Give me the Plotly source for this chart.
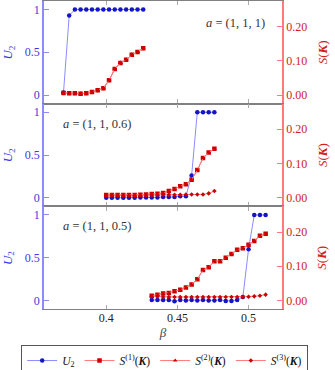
import plotly.graph_objects as go

# --- data ------------------------------------------------------------------
beta_1 = [0.370, 0.374, 0.378, 0.382, 0.386, 0.390, 0.394, 0.398, 0.402, 0.406,
          0.410, 0.414, 0.418, 0.422, 0.426]
u2_1 = [0.03, 0.93, 1.0, 1.0, 1.0, 1.0, 1.0, 1.0, 1.0, 1.0, 1.0, 1.0, 1.0, 1.0, 1.0]
s1_1 = [0.006, 0.005, 0.005, 0.004, 0.005, 0.009, 0.014, 0.020, 0.043, 0.076,
        0.094, 0.103, 0.118, 0.126, 0.137]
s2_1 = s1_1
s3_1 = s1_1

beta_2 = [0.400, 0.404, 0.408, 0.412, 0.416, 0.420, 0.424, 0.428, 0.432, 0.436,
          0.440, 0.444, 0.448, 0.452, 0.456, 0.460, 0.464, 0.468, 0.472, 0.476]
u2_2 = [0.0, 0.0, 0.0, 0.0, 0.0, 0.0, 0.005, 0.005, 0.005, 0.005,
        0.01, 0.01, 0.01, 0.02, 0.02, 0.26, 1.0, 1.0, 1.0, 1.0]
s1_2 = [0.008, 0.008, 0.008, 0.008, 0.008, 0.008, 0.009, 0.010, 0.011, 0.012,
        0.014, 0.020, 0.026, 0.034, 0.040, 0.053, 0.081, 0.116, 0.132, 0.143]
s2_2 = s1_2
s3_2 = [0.007, 0.007, 0.007, 0.007, 0.007, 0.007, 0.007, 0.008, 0.008, 0.008,
        0.009, 0.009, 0.009, 0.009, 0.010, 0.010, 0.010, 0.010, 0.013, 0.020]

beta_3 = [0.432, 0.436, 0.440, 0.444, 0.448, 0.452, 0.456, 0.460, 0.464, 0.468,
          0.472, 0.476, 0.480, 0.484, 0.488, 0.492, 0.496, 0.500, 0.504, 0.508, 0.512]
u2_3 = [0.005, 0.005, 0.005, 0.005, -0.01, 0.005, 0.0, 0.005, 0.0, 0.005,
        0.0, 0.0, 0.005, -0.005, -0.005, 0.005, 0.04, 0.60, 1.0, 1.0, 1.0]
s1_3 = [0.014, 0.017, 0.020, 0.022, 0.027, 0.031, 0.038, 0.047, 0.062, 0.089,
        0.097, 0.115, 0.115, 0.125, 0.136, 0.148, 0.153, 0.163, 0.174, 0.189, 0.195]
s2_3 = s1_3
s3_3 = [0.012, 0.011, 0.010, 0.010, 0.010, 0.010, 0.010, 0.010, 0.010, 0.010,
        0.010, 0.010, 0.010, 0.010, 0.010, 0.010, 0.010, 0.011, 0.012, 0.014, 0.017]

panel_labels = ["<i>a</i> = (1, 1, 1)", "<i>a</i> = (1, 1, 0.6)", "<i>a</i> = (1, 1, 0.5)"]

FONT = "Liberation Serif"
BLUE = "#1414c8"
BLUE_LINE = "#8c8cff"
BLUE_TXT = "#3a3ae0"
RED = "#cc0000"
RED_LINE = "#ff7a7a"
RED_TXT = "#d42020"
GRAY = "#808080"

panels = [
    (beta_1, u2_1, s1_1, s2_1, s3_1),
    (beta_2, u2_2, s1_2, s2_2, s3_2),
    (beta_3, u2_3, s1_3, s2_3, s3_3),
]
domains = [[0.667, 1.0], [0.333, 0.667], [0.0, 0.333]]

fig = go.Figure()

for i, (b, u2, s1, s2, s3) in enumerate(panels):
    xa = "x" if i == 0 else "x%d" % (i + 1)
    yl = "y" if i == 0 else "y%d" % (2 * i + 1)
    yr = "y%d" % (2 * i + 2)
    show = (i == 2)

    fig.add_trace(go.Scatter(
        x=b, y=u2, xaxis=xa, yaxis=yl, mode="lines+markers",
        name="<i>U</i><sub>2</sub>", showlegend=show,
        line=dict(color=BLUE_LINE, width=1),
        marker=dict(color=BLUE, size=4.5, symbol="circle"),
    ))
    fig.add_trace(go.Scatter(
        x=b, y=s1, xaxis=xa, yaxis=yr, mode="lines+markers",
        name="<i>S</i><sup>(1)</sup>(<b><i>K</i></b>)", showlegend=show,
        line=dict(color=RED_LINE, width=1),
        marker=dict(color=RED, size=4.5, symbol="square"),
    ))
    fig.add_trace(go.Scatter(
        x=b, y=s2, xaxis=xa, yaxis=yr, mode="lines+markers",
        name="<i>S</i><sup>(2)</sup>(<b><i>K</i></b>)", showlegend=show,
        line=dict(color=RED_LINE, width=1),
        marker=dict(color=RED, size=4, symbol="triangle-up"),
    ))
    fig.add_trace(go.Scatter(
        x=b, y=s3, xaxis=xa, yaxis=yr, mode="lines+markers",
        name="<i>S</i><sup>(3)</sup>(<b><i>K</i></b>)", showlegend=show,
        line=dict(color=RED_LINE, width=1),
        marker=dict(color=RED, size=3.5, symbol="diamond"),
    ))

    xkey = "xaxis" if i == 0 else "xaxis%d" % (i + 1)
    ylkey = "yaxis" if i == 0 else "yaxis%d" % (2 * i + 1)
    yrkey = "yaxis%d" % (2 * i + 2)

    fig.update_layout({
        xkey: dict(
            domain=[0, 1], anchor=yl, range=[0.3563, 0.5235],
            matches=None if i == 0 else "x",
            tickvals=[0.4, 0.45, 0.5], ticktext=["0.4", "0.45", "0.5"],
            showticklabels=(i == 2), ticks="inside", ticklen=4,
            tickcolor="#aaaaaa", tickwidth=1, ticklabelstandoff=-3,
            showline=True, linecolor=GRAY, linewidth=1.2, mirror="ticks",
            showgrid=False, zeroline=False, automargin=False,
            tickfont=dict(family=FONT, size=12, color="#222222"),
            title=dict(text="<i>β</i>" if i == 2 else "",
                       font=dict(family=FONT, size=13, color="#444444"),
                       standoff=4),
        ),
        ylkey: dict(
            domain=domains[i], anchor=xa, range=[-0.1, 1.1],
            tickvals=[0, 0.5, 1], ticktext=["0", "0.5", "1"],
            ticks="inside", ticklen=5, tickcolor=BLUE_LINE,
            showline=True, linecolor=BLUE_LINE, linewidth=1.5,
            showgrid=False, zeroline=False, automargin=False,
            tickfont=dict(family=FONT, size=12, color=BLUE_TXT),
        ),
        yrkey: dict(
            domain=domains[i], anchor=xa, overlaying=yl, side="right",
            range=[-0.025, 0.275], tickvals=[0, 0.1, 0.2],
            ticktext=["0.00", "0.10", "0.20"],
            ticks="inside", ticklen=5, tickcolor=RED_LINE,
            showline=True, linecolor=RED_LINE, linewidth=1.5,
            showgrid=False, zeroline=False, automargin=False,
            tickfont=dict(family=FONT, size=12, color=RED_TXT),
        ),
    })

    # axis titles, one pair per panel
    ymid = sum(domains[i]) / 2
    fig.add_annotation(
        x=-0.15, y=ymid, xref="paper", yref="paper",
        text="<i>U</i><sub>2</sub>", showarrow=False, textangle=-90,
        xanchor="center", yanchor="middle",
        font=dict(family=FONT, size=13, color=BLUE_TXT),
    )
    fig.add_annotation(
        x=1.168, y=ymid, xref="paper", yref="paper",
        text="<i>S</i>(<b><i>K</i></b>)", showarrow=False, textangle=-90,
        xanchor="center", yanchor="middle",
        font=dict(family=FONT, size=13, color=RED_TXT),
    )

# panel annotations
ann_pos = [(0.935, 0.93, "right"), (0.072, 0.6, "left"), (0.072, 0.268, "left")]
for (ax, ay, anc), txt in zip(ann_pos, panel_labels):
    fig.add_annotation(
        x=ax, y=ay, xref="paper", yref="paper", text=txt, showarrow=False,
        xanchor=anc, yanchor="middle",
        font=dict(family=FONT, size=12.5, color="#333333"),
    )

fig.update_layout(
    width=335, height=370,
    margin=dict(l=44, r=53, t=1, b=61, autoexpand=False),
    plot_bgcolor="white", paper_bgcolor="white",
    showlegend=True,
    legend=dict(
        orientation="h", x=1.11, xanchor="right", y=-0.117, yanchor="top",
        bordercolor="#555555", borderwidth=1,
        font=dict(family=FONT, size=11.5, color="#111111"),
        itemwidth=30, tracegroupgap=0,
    ),
)

fig.write_html(
    "out.html",
    config={"displayModeBar": False},
    post_script="document.body.style.margin='0';document.body.style.overflow='hidden';",
)
